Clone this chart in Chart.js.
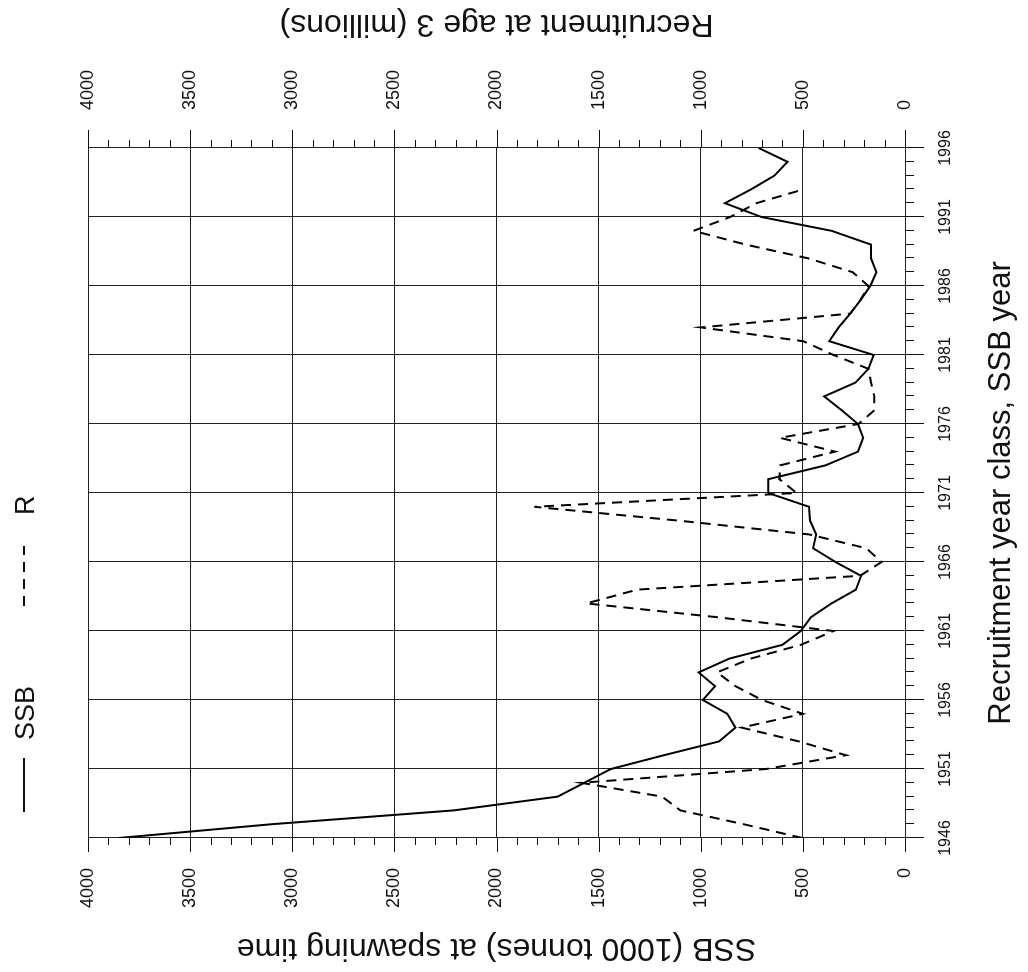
<!DOCTYPE html>
<html><head><meta charset="utf-8">
<script src="https://cdn.jsdelivr.net/npm/chart.js@4/dist/chart.umd.min.js"></script>
<style>
html,body{margin:0;padding:0;background:#fff;overflow:hidden;width:1028px;height:972px;}
#wrap{position:absolute;left:0;top:972px;width:972px;height:1028px;transform-origin:0 0;transform:rotate(-90deg);background:#fff;}
canvas{display:block;}
</style></head><body>
<div id="wrap"><canvas id="c" width="972" height="1028"></canvas></div>
<script>
// ---- data ----
const years = [1946,1947,1948,1949,1950,1951,1952,1953,1954,1955,
  1956,1957,1958,1959,1960,1961,1962,1963,1964,1965,
  1966,1967,1968,1969,1970,1971,1972,1973,1974,1975,
  1976,1977,1978,1979,1980,1981,1982,1983,1984,1985,
  1986,1987,1988,1989,1990,1991,1992,1993,1994,1995,1996];
const ssb = [3850,3100,2210,1700,1570,1440,1180,910,830,870,
  990,930,1010,860,600,510,460,360,240,215,
  340,450,435,465,470,670,670,390,230,205,
  230,310,396,243,179,153,371,325,268,217,
  170,140,166,166,360,703,882,754,639,575,716];
const recruitment = [503,790,1100,1190,1585,680,290,520,800,500,
  700,830,920,755,510,350,920,1560,1310,220,
  115,190,470,1110,1815,530,615,612,343,612,
  228,150,150,166,179,350,498,1000,268,217,
  179,256,473,780,1035,856,728,498,null,null,null];
const yearTicks = [1946,1951,1956,1961,1966,1971,1976,1981,1986,1991,1996];
const valueTicks = [0,500,1000,1500,2000,2500,3000,3500,4000];
const seriesNames = ['SSB','R'];
const xTitle = 'Recruitment year class, SSB year';
const ssbTitle = 'SSB (1000 tonnes) at spawning time';
const recTitle = 'Recruitment at age 3 (millions)';

const FONT = "'Liberation Sans',Arial,Helvetica,sans-serif";
const INK = '#111';

const decor = {
  id: 'decor',
  afterDraw(chart) {
    const {ctx, chartArea: a, scales: {x, y, y1}} = chart;
    ctx.save();
    ctx.strokeStyle = INK; ctx.lineWidth = 1;
    ctx.beginPath();
    for (let v = 0; v <= 4000; v += 100) {
      const p = Math.round(y.getPixelForValue(v)) + 0.5;
      const major = v % 500 === 0;
      ctx.moveTo(a.left, p); ctx.lineTo(a.left - (major ? 14 : 7), p);
      const q = Math.round(y1.getPixelForValue(v)) + 0.5;
      ctx.moveTo(a.right, q); ctx.lineTo(a.right + (major ? 18 : 8), q);
    }
    for (let yr = years[0]; yr <= yearTicks[yearTicks.length-1]; yr++) {
      const p = Math.round(x.getPixelForValue(yr)) + 0.5;
      const major = yearTicks.includes(yr);
      ctx.moveTo(p, a.bottom); ctx.lineTo(p, a.bottom + (major ? 19 : 9));
    }
    ctx.stroke();

    ctx.fillStyle = INK;
    // x title
    ctx.font = '31px ' + FONT;
    ctx.textAlign = 'center'; ctx.textBaseline = 'alphabetic';
    ctx.fillText(xTitle, (a.left + a.right) / 2, 1010);
    // left title
    ctx.font = '32px ' + FONT;
    ctx.save();
    ctx.translate(33, (a.top + a.bottom) / 2);
    ctx.rotate(-Math.PI / 2);
    ctx.fillText(ssbTitle, 0, 0);
    ctx.restore();
    // right title
    ctx.save();
    ctx.translate(957, (a.top + a.bottom) / 2);
    ctx.rotate(-Math.PI / 2);
    ctx.fillText(recTitle, 0, 0);
    ctx.restore();

    // legend
    const ds = chart.data.datasets;
    ctx.font = '27px ' + FONT;
    ctx.textAlign = 'left';
    const legendItems = [{x0: 160, x1: 214, tx: 232}, {x0: 366, x1: 426, tx: 457}];
    legendItems.forEach((it, i) => {
      ctx.save();
      ctx.lineWidth = ds[i].borderWidth;
      ctx.setLineDash(ds[i].borderDash || []);
      ctx.beginPath(); ctx.moveTo(it.x0, 24); ctx.lineTo(it.x1, 24); ctx.stroke();
      ctx.restore();
      ctx.fillText(seriesNames[i], it.tx, 34);
    });
    ctx.restore();
  }
};

const axisTicks = (list) => (s) => { s.ticks = list.map(v => ({value: v})); };

new Chart(document.getElementById('c').getContext('2d'), {
  type: 'line',
  data: {
    datasets: [
      {label: seriesNames[0], data: years.map((yr, i) => ({x: yr, y: ssb[i]})), yAxisID: 'y',
       borderColor: '#000', borderWidth: 2, pointRadius: 0, tension: 0, fill: false},
      {label: seriesNames[1], data: years.map((yr, i) => ({x: yr, y: recruitment[i]})).filter(p => p.y !== null), yAxisID: 'y1',
       borderColor: '#000', borderWidth: 2, borderDash: [10, 7], pointRadius: 0, tension: 0, fill: false}
    ]
  },
  options: {
    responsive: false, animation: false, devicePixelRatio: 1,
    layout: {padding: {top: 88, left: 0, right: 0, bottom: 0}},
    plugins: {legend: {display: false}, tooltip: {enabled: false}},
    scales: {
      x: {type: 'linear', min: 1946, max: 1996, afterBuildTicks: axisTicks(yearTicks),
          afterFit: s => { s.height = 123; },
          grid: {color: '#222', lineWidth: 1, drawTicks: false}, border: {color: '#222'},
          ticks: {callback: v => String(v), padding: 31, maxRotation: 0, autoSkip: false,
                  font: {family: FONT, size: 16}, color: INK}},
      y: {type: 'linear', position: 'left', min: 0, max: 4000, afterBuildTicks: axisTicks(valueTicks),
          afterFit: s => { s.width = 134; },
          grid: {color: '#222', lineWidth: 1, drawTicks: false}, border: {color: '#222'},
          ticks: {callback: v => String(v), padding: 30, font: {family: FONT, size: 18}, color: INK}},
      y1: {type: 'linear', position: 'right', min: 0, max: 4000, afterBuildTicks: axisTicks(valueTicks),
          afterFit: s => { s.width = 148; },
          grid: {display: false, drawTicks: false}, border: {color: '#222'},
          ticks: {callback: v => String(v), padding: 38, font: {family: FONT, size: 18}, color: INK}}
    }
  },
  plugins: [decor]
});
</script>
</body></html>
